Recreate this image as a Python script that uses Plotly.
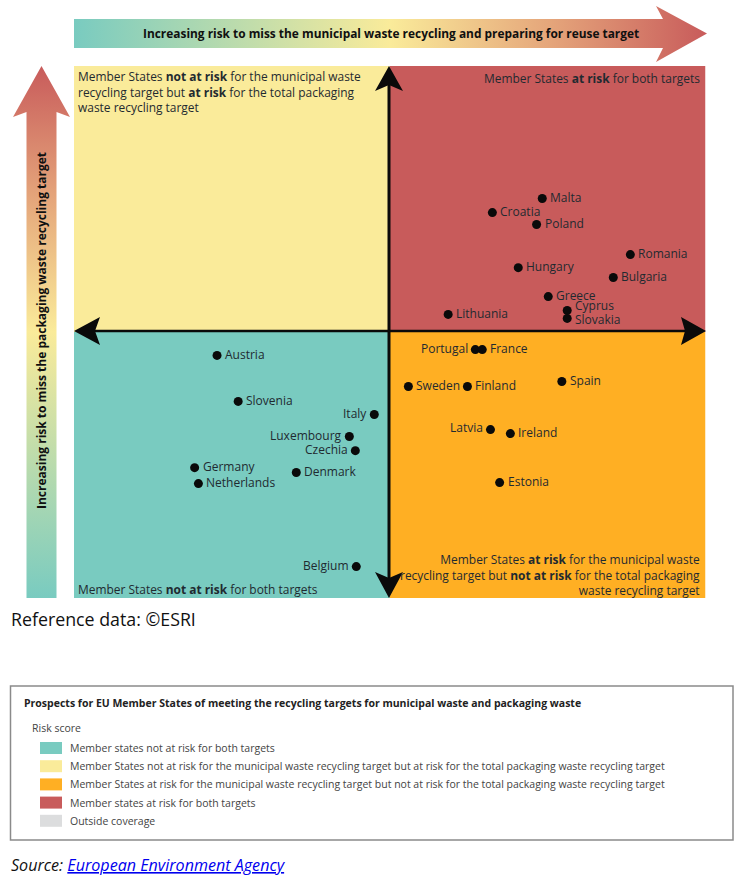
import plotly.graph_objects as go

FONT = "Open Sans"
INK = "#1f2a30"
W, H = 743, 877

# risk scores, -100..100 on both axes
countries = ["Malta", "Croatia", "Poland", "Romania", "Hungary", "Bulgaria", "Greece", "Cyprus", "Slovakia",
             "Lithuania", "Portugal", "France", "Spain", "Sweden", "Finland", "Latvia", "Ireland", "Estonia",
             "Austria", "Slovenia", "Italy", "Luxembourg", "Czechia", "Germany", "Netherlands", "Denmark", "Belgium"]
municipal_risk = [48.3, 32.5, 46.5, 76.2, 40.7, 70.8, 50.2, 56.2, 56.2,
                  18.5, 27.1, 29.3, 54.5, 5.9, 24.6, 31.9, 38.2, 34.8,
                  -54.7, -48.0, -4.9, -12.8, -10.9, -61.8, -60.6, -29.6, -10.6]
packaging_risk = [50.2, 44.9, 40.4, 29.1, 24.2, 20.5, 13.3, 8.1, 5.1,
                  6.6, -6.6, -6.6, -18.6, -20.5, -20.5, -36.7, -38.2, -56.6,
                  -8.8, -26.1, -31.0, -39.3, -44.6, -51.0, -57.0, -52.8, -88.2]
label_left = ["Portugal", "Latvia", "Italy", "Luxembourg", "Czechia", "Belgium"]
label_nudge = {"Cyprus": 4, "Slovakia": -2, "Latvia": 1}

legend_title = "Prospects for EU Member States of meeting the recycling targets for municipal waste and packaging waste"
legend_labels = ["Member states not at risk for both targets",
                 "Member States not at risk for the municipal waste recycling target but at risk for the total packaging waste recycling target",
                 "Member States at risk for the municipal waste recycling target but not at risk for the total packaging waste recycling target",
                 "Member states at risk for both targets",
                 "Outside coverage"]
legend_colors = ["#79cbc0", "#faeb9a", "#ffaf23", "#c85b5b", "#dcddde"]

gradient = [[0, "#79cbc0"], [0.5, "#faeb9a"], [0.75, "#e5a67b"], [1, "#c85b5b"]]

fig = go.Figure()

# big gradient arrows, drawn in page pixels on the first axes
fig.add_trace(go.Scatter(
    x=[74, 663, 656, 707, 656, 663, 74, 74], y=[19, 19, 6, 33.5, 62, 48, 48, 19],
    mode="lines", line=dict(width=0), fill="toself", hoverinfo="skip",
    fillgradient=dict(type="horizontal", colorscale=gradient)))
fig.add_trace(go.Scatter(
    x=[26.5, 26.5, 13, 41.5, 70, 56.5, 56.5, 26.5], y=[598, 112, 117, 66, 117, 112, 598, 598],
    mode="lines", line=dict(width=0), fill="toself", hoverinfo="skip",
    fillgradient=dict(type="vertical", colorscale=gradient)))

# countries, on the second axes
fig.add_trace(go.Scatter(
    x=municipal_risk, y=packaging_risk, text=countries, xaxis="x2", yaxis="y2", hoverinfo="text",
    mode="markers", marker=dict(color="#0a0a0a", size=9), cliponaxis=False))

fig.update_layout(
    width=W, height=H, margin=dict(l=0, r=0, t=0, b=0), showlegend=False,
    plot_bgcolor="white", paper_bgcolor="white", font=dict(family=FONT, color=INK),
    xaxis=dict(domain=[0, 1], range=[0, W], visible=False, fixedrange=True),
    yaxis=dict(domain=[0, 1], range=[H, 0], visible=False, fixedrange=True),
    xaxis2=dict(domain=[74 / W, 705.5 / W], range=[-100, 100], visible=False, anchor="y2", fixedrange=True),
    yaxis2=dict(domain=[1 - 598 / H, 1 - 66 / H], range=[-100, 100], visible=False, anchor="x2", fixedrange=True),
)

for c, mx, py in zip(countries, municipal_risk, packaging_risk):
    left = c in label_left
    fig.add_annotation(x=mx, y=py, xref="x2", yref="y2", text=c, showarrow=False, borderpad=0,
                       xanchor="right" if left else "left", xshift=-6 if left else 7,
                       yshift=1 + label_nudge.get(c, 0), font=dict(family=FONT, size=12, color=INK))

# quadrants
for x0, x1, y0, y1, col in [(-100, 0, -100, 0, legend_colors[0]), (-100, 0, 0, 100, legend_colors[1]),
                            (0, 100, -100, 0, legend_colors[2]), (0, 100, 0, 100, legend_colors[3])]:
    fig.add_shape(type="rect", xref="x2", yref="y2", x0=x0, x1=x1, y0=y0, y1=y1,
                  fillcolor=col, line_width=0, layer="below")

# black cross with arrow heads
fig.add_shape(type="line", x0=389, x1=389, y0=75, y1=590, line=dict(color="#0a0a0a", width=3))
fig.add_shape(type="line", x0=85, x1=695, y0=331, y1=331, line=dict(color="#0a0a0a", width=2.5))
for path in ["M389,66 L403,91 L389,85 L375,91 Z", "M389,598 L403,572 L389,578 L375,572 Z",
             "M74,331 L100,317 L95,331 L100,345 Z", "M706,331 L681,317 L685,331 L681,345 Z"]:
    fig.add_shape(type="path", path=path, fillcolor="#0a0a0a", line_width=0)


def text(x, y, s, size=11.95, anchor="left", color=INK, angle=0):
    fig.add_annotation(x=x, y=y, xref="x", yref="y", text=s, showarrow=False, xanchor=anchor, yanchor="middle",
                       align=anchor if anchor != "center" else "center", textangle=angle,
                       font=dict(family=FONT, size=size, color=color))


text(391, 33, "<b>Increasing risk to miss the municipal waste recycling and preparing for reuse target</b>",
     size=11.9, anchor="center", color="#101010")
text(41, 331, "<b>Increasing risk to miss the packaging waste recycling target</b>",
     size=12, anchor="center", color="#101010", angle=-90)

# quadrant captions
text(75.5, 92, "Member States <b>not at risk</b> for the municipal waste<br>recycling target but <b>at risk</b> for the total packaging<br>waste recycling target")
text(702, 78, "Member States <b>at risk</b> for both targets", anchor="right")
text(75.5, 589, "Member States <b>not at risk</b> for both targets")
text(702, 574.5, "Member States <b>at risk</b> for the municipal waste<br>recycling target but <b>not at risk</b> for the total packaging<br>waste recycling target", anchor="right")

text(9, 619, "Reference data: ©ESRI", size=17.8, color="#111111")

# legend box
fig.add_shape(type="rect", x0=10.5, x1=733, y0=686, y1=840, line=dict(color="#8a8a8a", width=1.5), fillcolor="white", layer="below")
text(22, 703, "<b>" + legend_title + "</b>", size=10.5, color="#222222")
text(29.5, 728, "Risk score", size=10.5, color="#444444")
for i, (lab, col) in enumerate(zip(legend_labels, legend_colors)):
    yc = 748 + i * 18.2
    fig.add_shape(type="rect", x0=40, x1=62, y0=yc - 6, y1=yc + 6, fillcolor=col, line_width=0)
    text(68, yc, lab, size=10.5, color="#444444")

text(9, 865, '<i>Source: <a href="https://www.eea.europa.eu" style="color:#0000ee"><u>European Environment Agency</u></a></i>',
     size=16.1, color="#111111")

fig.write_html("out.html", post_script="document.body.style.margin='0';", config={"displayModeBar": False})
